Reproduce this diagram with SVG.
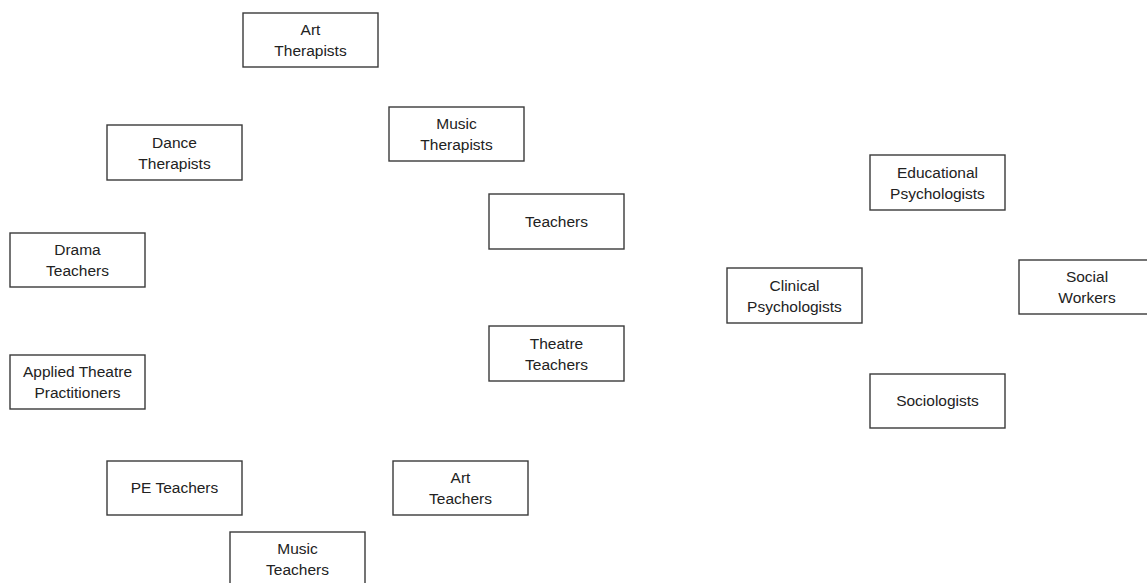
<svg xmlns="http://www.w3.org/2000/svg" width="1147" height="583" viewBox="0 0 1147 583">
  <style>
    .box { fill: #ffffff; stroke: #3a3a3a; stroke-width: 1.4; }
    .lbl { font-family: "Liberation Sans", Arial, sans-serif; font-size: 15.5px; fill: #222222; text-anchor: middle; }
  </style>
  <rect width="1147" height="583" fill="#ffffff"/>

  <g id="art-therapists">
    <rect class="box" x="243" y="13" width="135" height="54"/>
    <text class="lbl" x="310.5" y="35">Art</text>
    <text class="lbl" x="310.5" y="56">Therapists</text>
  </g>
  <g id="music-therapists">
    <rect class="box" x="389" y="107" width="135" height="54"/>
    <text class="lbl" x="456.5" y="129">Music</text>
    <text class="lbl" x="456.5" y="150">Therapists</text>
  </g>
  <g id="dance-therapists">
    <rect class="box" x="107" y="125" width="135" height="55"/>
    <text class="lbl" x="174.5" y="147.5">Dance</text>
    <text class="lbl" x="174.5" y="168.5">Therapists</text>
  </g>
  <g id="drama-teachers">
    <rect class="box" x="10" y="233" width="135" height="54"/>
    <text class="lbl" x="77.5" y="255">Drama</text>
    <text class="lbl" x="77.5" y="276">Teachers</text>
  </g>
  <g id="applied-theatre-practitioners">
    <rect class="box" x="10" y="355" width="135" height="54"/>
    <text class="lbl" x="77.5" y="377">Applied Theatre</text>
    <text class="lbl" x="77.5" y="398">Practitioners</text>
  </g>
  <g id="teachers">
    <rect class="box" x="489" y="194" width="135" height="55"/>
    <text class="lbl" x="556.5" y="227">Teachers</text>
  </g>
  <g id="theatre-teachers">
    <rect class="box" x="489" y="326" width="135" height="55"/>
    <text class="lbl" x="556.5" y="348.5">Theatre</text>
    <text class="lbl" x="556.5" y="369.5">Teachers</text>
  </g>
  <g id="pe-teachers">
    <rect class="box" x="107" y="461" width="135" height="54"/>
    <text class="lbl" x="174.5" y="493">PE Teachers</text>
  </g>
  <g id="art-teachers">
    <rect class="box" x="393" y="461" width="135" height="54"/>
    <text class="lbl" x="460.5" y="483">Art</text>
    <text class="lbl" x="460.5" y="504">Teachers</text>
  </g>
  <g id="music-teachers">
    <rect class="box" x="230" y="532" width="135" height="54"/>
    <text class="lbl" x="297.5" y="554">Music</text>
    <text class="lbl" x="297.5" y="575">Teachers</text>
  </g>
  <g id="educational-psychologists">
    <rect class="box" x="870" y="155" width="135" height="55"/>
    <text class="lbl" x="937.5" y="177.5">Educational</text>
    <text class="lbl" x="937.5" y="198.5">Psychologists</text>
  </g>
  <g id="clinical-psychologists">
    <rect class="box" x="727" y="268" width="135" height="55"/>
    <text class="lbl" x="794.5" y="290.5">Clinical</text>
    <text class="lbl" x="794.5" y="311.5">Psychologists</text>
  </g>
  <g id="social-workers">
    <rect class="box" x="1019" y="260" width="135" height="54"/>
    <text class="lbl" x="1087" y="282">Social</text>
    <text class="lbl" x="1087" y="303">Workers</text>
  </g>
  <g id="sociologists">
    <rect class="box" x="870" y="374" width="135" height="54"/>
    <text class="lbl" x="937.5" y="406">Sociologists</text>
  </g>
</svg>
